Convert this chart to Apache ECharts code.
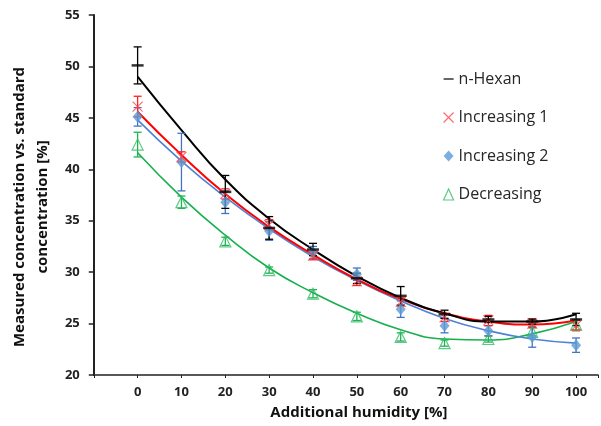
<!DOCTYPE html>
<html>
<head>
<meta charset="utf-8">
<script src="https://cdn.jsdelivr.net/npm/echarts@6/dist/echarts.min.js"></script>
<style>
  html, body { margin: 0; padding: 0; background: #fff; }
  #chart { width: 601px; height: 426px; }
</style>
</head>
<body>
<div id="chart"></div>
<script>
// x values (additional humidity, %)
var humidity = [0, 10, 20, 30, 40, 50, 60, 70, 80, 90, 100];

// n-Hexan
var hexanMean  = [50.1, null, 37.8, 34.3, 32.2, 29.4, 27.7, 25.9, 25.4, 25.2, 25.4];
var hexanErr   = [1.8, null, 1.6, 1.1, 0.6, 0.5, 0.9, 0.4, 0.3, 0.25, 0.6];
var hexanTrend = [49.0, 43.8, 39.0, 35.2, 32.2, 29.6, 27.5, 26.0, 25.2, 25.2, 25.9];

// Increasing 1
var inc1Mean  = [46.1, 41.2, 37.6, 34.6, 31.6, 29.1, 27.1, 25.6, 25.3, 25.0, 24.8];
var inc1Err   = [1.0, 0.5, 0.5, 0.5, 0.4, 0.4, 0.4, 0.4, 0.5, 0.4, 0.5];
var inc1Trend = [45.6, 41.4, 37.6, 34.4, 31.7, 29.3, 27.4, 26.0, 25.2, 24.9, 25.3];

// Increasing 2
var inc2Mean  = [45.1, 40.7, 36.8, 34.0, 31.9, 29.8, 26.4, 24.8, 24.3, 23.7, 22.9];
var inc2Err   = [0.9, 2.8, 1.1, 0.9, 0.6, 0.6, 0.8, 0.7, 0.5, 1.0, 0.7];
var inc2Trend = [44.8, 40.8, 37.3, 34.2, 31.5, 29.2, 27.2, 25.5, 24.3, 23.5, 23.1];

// Decreasing
var decMean  = [42.4, 36.8, 33.0, 30.2, 27.9, 25.7, 23.7, 23.1, 23.5, 24.2, 24.9];
var decErr   = [1.2, 0.6, 0.4, 0.3, 0.4, 0.4, 0.4, 0.3, 0.3, 0.4, 0.5];
var decTrend = [41.6, 37.3, 33.6, 30.4, 28.0, 26.0, 24.4, 23.5, 23.4, 24.0, 25.2];

var FONT = '"Open Sans", "Noto Sans", sans-serif';
var crossPath = 'path://M0,0L10,10M10,0L0,10';
var dashPath = 'path://M0,0L0.01,0M0,4.2H10V5.8H0ZM10,10L9.99,10';

function points(ys) {
    var out = [];
    for (var i = 0; i < humidity.length; i++) {
        if (ys[i] != null) out.push([humidity[i], ys[i]]);
    }
    return out;
}

function errPoints(ys, es) {
    var out = [];
    for (var i = 0; i < humidity.length; i++) {
        if (ys[i] != null && es[i] != null) out.push([humidity[i], ys[i] - es[i], ys[i] + es[i]]);
    }
    return out;
}

function errorSeries(ys, es, color) {
    return {
        type: 'custom',
        silent: true,
        z: 3,
        data: errPoints(ys, es),
        encode: { x: 0, y: [1, 2] },
        renderItem: function (params, api) {
            var lo = api.coord([api.value(0), api.value(1)]);
            var hi = api.coord([api.value(0), api.value(2)]);
            var w = 4;
            var st = { stroke: color, lineWidth: 1.3 };
            return {
                type: 'group',
                children: [
                    { type: 'line', shape: { x1: lo[0], y1: lo[1], x2: hi[0], y2: hi[1] }, style: st },
                    { type: 'line', shape: { x1: lo[0] - w, y1: lo[1], x2: lo[0] + w, y2: lo[1] }, style: st },
                    { type: 'line', shape: { x1: hi[0] - w, y1: hi[1], x2: hi[0] + w, y2: hi[1] }, style: st }
                ]
            };
        }
    };
}

function trendSeries(ys, color, width) {
    return {
        type: 'line',
        silent: true,
        smooth: 0.5,
        showSymbol: false,
        z: 2,
        data: points(ys),
        lineStyle: { color: color, width: width }
    };
}

var chart = echarts.init(document.getElementById('chart'));

var option = {
    animation: false,
    backgroundColor: '#fff',
    grid: { left: 90, right: 3, top: 15, bottom: 51 },
    legend: {
        orient: 'vertical',
        left: 438,
        top: 66,
        itemWidth: 10,
        itemHeight: 11,
        itemGap: 22.5,
        textStyle: { fontFamily: FONT, fontSize: 16, color: '#262626' },
        data: [
            { name: 'n-Hexan', icon: dashPath, itemStyle: { color: '#000' } },
            { name: 'Increasing 1', icon: crossPath, itemStyle: { color: 'transparent', borderColor: '#ff4040', borderWidth: 1.1 } },
            { name: 'Increasing 2', icon: 'diamond', itemStyle: { color: '#5b9bd5' } },
            { name: 'Decreasing', icon: 'triangle', itemStyle: { color: 'transparent', borderColor: '#33bb66', borderWidth: 1.2 } }
        ]
    },
    xAxis: {
        type: 'value',
        min: -10,
        max: 105,
        interval: 10,
        splitLine: { show: false },
        axisLine: { onZero: false, lineStyle: { color: '#222', width: 1.5 } },
        axisTick: { show: true, length: 3, lineStyle: { color: '#222' } },
        axisLabel: {
            margin: 11,
            fontFamily: FONT,
            fontSize: 13,
            fontWeight: 'bold',
            color: '#222',
            formatter: function (v) { return (v >= 0 && v <= 100) ? String(v) : ''; }
        },
        name: 'Additional humidity [%]',
        nameLocation: 'middle',
        nameGap: 30,
        nameTextStyle: { fontFamily: FONT, fontSize: 15, fontWeight: 'bold', color: '#111', padding: [0, 0, 0, 26] }
    },
    yAxis: {
        type: 'value',
        min: 20,
        max: 55,
        interval: 5,
        splitLine: { show: false },
        axisLine: { show: true, onZero: false, lineStyle: { color: '#222', width: 2 } },
        axisTick: { show: true, length: 5, lineStyle: { color: '#222', width: 1.5 } },
        axisLabel: { margin: 14, fontFamily: FONT, fontSize: 13, fontWeight: 'bold', color: '#222' },
        name: 'Measured concentration vs. standard\nconcentration [%]',
        nameLocation: 'middle',
        nameGap: 33,
        nameTextStyle: { fontFamily: FONT, fontSize: 15, fontWeight: 'bold', color: '#111', lineHeight: 23, align: 'center', padding: [0, 24, 0, 0] }
    },
    series: [
        trendSeries(decTrend, '#16b04c', 1.6),
        trendSeries(inc2Trend, '#4f82d6', 1.6),
        trendSeries(inc1Trend, '#ff0000', 2),
        trendSeries(hexanTrend, '#000000', 2),

        errorSeries(decMean, decErr, '#1fb351'),
        errorSeries(inc2Mean, inc2Err, '#4472c4'),
        errorSeries(inc1Mean, inc1Err, '#ff2020'),
        errorSeries(hexanMean, hexanErr, '#000000'),

        {
            name: 'Decreasing', type: 'scatter', z: 4, data: points(decMean),
            symbol: 'triangle', symbolSize: 11,
            itemStyle: { color: 'rgba(255,255,255,0)', borderColor: '#33bb66', borderWidth: 1.2 }
        },
        {
            name: 'Increasing 2', type: 'scatter', z: 4, data: points(inc2Mean),
            symbol: 'diamond', symbolSize: [10, 12],
            itemStyle: { color: '#5b9bd5' }
        },
        {
            name: 'Increasing 1', type: 'scatter', z: 4, data: points(inc1Mean),
            symbol: crossPath, symbolSize: 10,
            itemStyle: { color: 'transparent', borderColor: '#ff4040', borderWidth: 1.1 }
        },
        {
            name: 'n-Hexan', type: 'scatter', z: 4, data: points(hexanMean),
            symbol: 'rect', symbolSize: [12, 2.5],
            itemStyle: { color: '#000' }
        }
    ]
};

chart.setOption(option);
</script>
</body>
</html>
